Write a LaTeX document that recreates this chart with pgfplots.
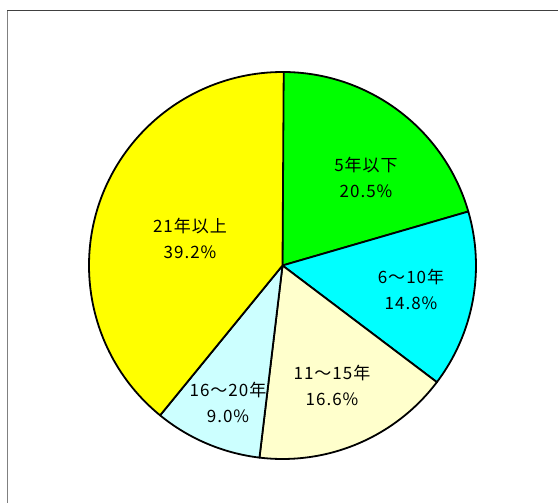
\documentclass[border=0pt]{standalone}
\usepackage{pgfplots}
\pgfplotsset{compat=1.18}
\usepackage{pgfplotstable}
\usepackage{fontspec}
\setmainfont{Noto Sans CJK JP}
\newfontfamily\labfont[LetterSpace=6]{Noto Sans CJK JP}

\definecolor{c1}{RGB}{0,255,0}
\definecolor{c2}{RGB}{0,255,255}
\definecolor{c3}{RGB}{255,255,204}
\definecolor{c4}{RGB}{204,255,255}
\definecolor{c5}{RGB}{255,255,0}

% name, percent, colour, label position (pixels from left, from top)
\pgfplotstableread[col sep=comma]{
name,pct,col,lx,ly
5年以下,20.5,c1,366,177
6〜10年,14.8,c2,411,289
11〜15年,16.6,c3,332,385
16〜20年,9.0,c4,228,402
21年以上,39.2,c5,190,238
}\piedata

\begin{document}
\begin{tikzpicture}
\begin{axis}[
  hide axis, x=1pt, y=1pt,
  xmin=0, xmax=558, ymin=0, ymax=503,
  clip=true,
]
\fill[white] (axis cs:0,0) rectangle (axis cs:558,503);
\draw[color=black!75, line width=1.5pt] (axis cs:7.5,-20) -- (axis cs:7.5,492.5) -- (axis cs:600,492.5);
\draw[color=black!50, line width=1.5pt] (axis cs:7.5,-20) -- (axis cs:7.5,492);
\gdef\cum{0}
\pgfplotsforeachungrouped \i in {0,...,4} {
  \pgfplotstablegetelem{\i}{pct}\of\piedata \let\p\pgfplotsretval
  \pgfplotstablegetelem{\i}{col}\of\piedata \let\c\pgfplotsretval
  \pgfmathsetmacro\a{90-3.6*\cum}
  \pgfmathsetmacro\b{90-3.6*(\cum+\p)}
  \edef\cmd{\noexpand\filldraw[fill=\c, draw=black, line width=1.8pt, line join=round]
    (axis cs:282.5,237.5) -- ++(\a:193.5pt) arc[start angle=\a, end angle=\b, radius=193.5pt] -- cycle;}
  \cmd
  \pgfmathsetmacro\cum{\cum+\p}
  \xdef\cum{\cum}
}
\pgfplotsforeachungrouped \i in {0,...,4} {
  \pgfplotstablegetelem{\i}{name}\of\piedata \let\n\pgfplotsretval
  \pgfplotstablegetelem{\i}{pct}\of\piedata \let\p\pgfplotsretval
  \pgfplotstablegetelem{\i}{lx}\of\piedata \let\lx\pgfplotsretval
  \pgfplotstablegetelem{\i}{ly}\of\piedata \let\ly\pgfplotsretval
  \pgfmathsetmacro\yy{503-\ly}
  \edef\cmd{\noexpand\node[align=center, font=\noexpand\labfont\noexpand\fontsize{17}{26}\noexpand\selectfont, inner sep=0pt]
    at (axis cs:\lx,\yy) {\n\noexpand\\\p\noexpand\%};}
  \cmd
}
\end{axis}
\pgfresetboundingbox
\path (0,0) rectangle (558pt,503pt);
\end{tikzpicture}
\end{document}
